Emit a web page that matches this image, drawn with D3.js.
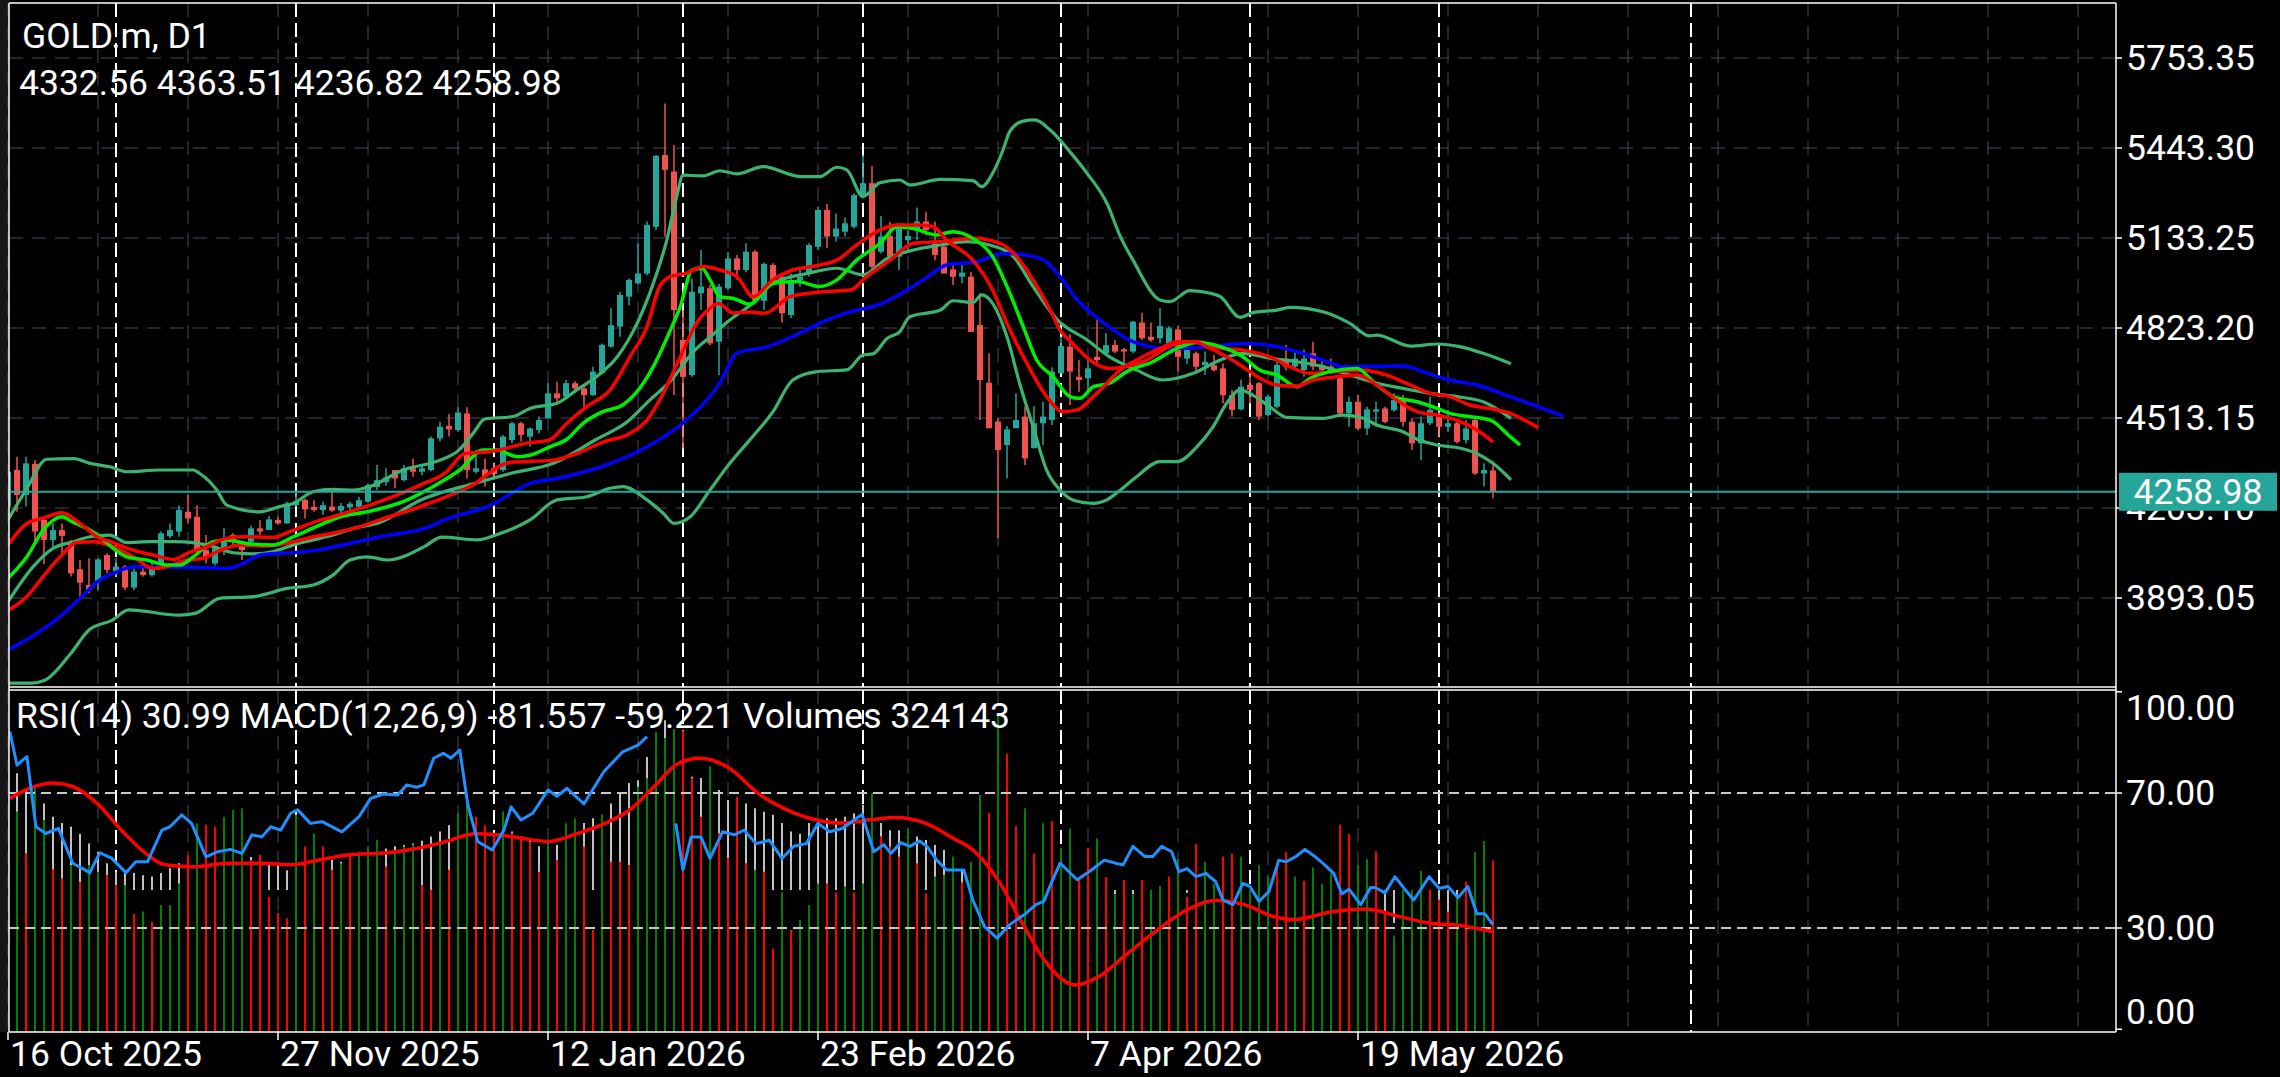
<!DOCTYPE html>
<html>
<head>
<meta charset="utf-8">
<script src="https://cdn.jsdelivr.net/npm/d3@7"></script>
<style>
  html, body { margin: 0; padding: 0; background: #000; }
  svg { display: block; }
  text { font-family: Roboto, 'Noto Sans', sans-serif; fill: #fff; }
</style>
</head>
<body>
<div id="chart"></div>
<script>
// ---- data (bar index 0 = 16 Oct 2025) ----
const opens = [4208,4334,4248,4355,4162,4093,4127,4084,3992,3938,
  3949,4041,3984,4001,3929,3984,3972,4012,4106,4122,
  4190,4173,4058,4012,4058,4110,4076,4087,4133,4127,
  4162,4150,4213,4231,4207,4196,4208,4194,4205,4207,
  4225,4276,4292,4334,4299,4340,4328,4334,4443,4486,
  4472,4529,4328,4336,4340,4334,4437,4495,4449,4472,
  4512,4598,4587,4633,4615,4592,4667,4759,4828,4931,
  4977,5011,5172,5419,5362,4782,4661,4943,4960,4776,
  4960,5063,5023,5086,4917,5040,5000,4868,4988,5011,
  5103,5230,5138,5155,5172,5281,5322,5086,5140,5069,
  5126,5161,5190,5115,5103,5025,5000,5000,4834,4635,
  4501,4420,4478,4518,4409,4495,4506,4667,4759,4655,
  4650,4724,4736,4765,4750,4742,4842,4793,4788,4770,
  4818,4718,4736,4695,4695,4684,4592,4543,4627,4633,
  4523,4552,4718,4690,4678,4736,4695,4690,4650,4529,
  4569,4477,4535,4546,4540,4575,4500,4426,4495,4518,
  4483,4495,4437,4506,4322,4332.56];
const highs = [4340,4380,4380,4368,4173,4150,4150,4093,4024,4030,
  4030,4047,4030,4007,3995,4018,4018,4122,4150,4213,
  4248,4213,4110,4070,4133,4116,4087,4142,4162,4175,
  4173,4225,4259,4236,4230,4225,4259,4220,4225,4242,
  4288,4351,4340,4334,4351,4374,4350,4449,4500,4527,
  4550,4550,4403,4374,4360,4455,4500,4500,4480,4518,
  4633,4638,4644,4640,4625,4690,4770,4891,4948,4994,
  5115,5190,5419,5597,5454,4885,4994,5092,4971,4975,
  5086,5075,5115,5092,5048,5046,5004,5011,5023,5115,
  5241,5250,5218,5204,5287,5419,5381,5209,5189,5184,
  5160,5238,5224,5190,5115,5040,5040,5017,4943,4736,
  4512,4486,4598,4552,4554,4569,4688,4793,4802,4713,
  4719,4857,4805,4782,4755,4848,4876,4842,4891,4830,
  4830,4760,4742,4742,4730,4701,4610,4646,4661,4638,
  4592,4722,4765,4747,4750,4776,4718,4718,4655,4587,
  4592,4552,4570,4552,4598,4592,4512,4518,4587,4535,
  4541,4500,4506,4512,4357,4363.51];
const lows = [4200,4190,4208,4087,4010,4070,4047,3967,3886,3909,
  3921,3978,3966,3921,3921,3966,3966,4007,4099,4104,
  4150,4047,4012,4005,4041,4070,4024,4081,4110,4127,
  4145,4150,4207,4167,4190,4179,4190,4185,4185,4202,
  4220,4265,4280,4271,4294,4311,4316,4330,4432,4449,
  4466,4305,4322,4276,4300,4328,4426,4432,4414,4460,
  4512,4569,4580,4600,4552,4590,4665,4755,4793,4902,
  4975,5005,5161,5138,4592,4408,4655,4885,4765,4661,
  4955,4989,5015,4914,4885,4977,4842,4857,4965,5000,
  5092,5098,5121,5138,5166,5270,5011,5080,5057,5023,
  5092,5126,5143,5057,5011,4971,4977,4810,4506,4478,
  4099,4305,4478,4351,4409,4420,4489,4667,4558,4604,
  4610,4701,4730,4736,4701,4736,4782,4776,4770,4765,
  4673,4700,4667,4661,4673,4564,4518,4540,4564,4506,
  4518,4546,4678,4685,4655,4678,4672,4665,4523,4483,
  4472,4455,4483,4495,4535,4483,4403,4368,4489,4449,
  4466,4425,4425,4317,4277,4236.82];
const closes = [4328,4248,4357,4122,4093,4127,4107,3978,3946,3921,
  4026,3990,4001,3929,3984,3972,3995,4116,4127,4196,
  4167,4058,4036,4064,4087,4087,4058,4133,4122,4164,
  4150,4219,4225,4198,4196,4213,4194,4210,4218,4230,
  4282,4299,4309,4305,4340,4328,4340,4443,4483,4474,
  4532,4334,4340,4311,4320,4449,4495,4455,4477,4506,
  4598,4581,4633,4615,4592,4673,4765,4833,4937,4989,
  5011,5178,5416,5368,4885,4655,4948,4966,4770,4966,
  5063,5023,5086,4920,5044,4983,4874,4983,5000,5109,
  5230,5138,5166,5184,5281,5322,5034,5138,5069,5172,
  5140,5190,5161,5075,5011,5000,5014,4810,4644,4478,
  4403,4474,4506,4374,4495,4518,4673,4761,4673,4644,
  4684,4713,4764,4742,4742,4845,4788,4782,4830,4822,
  4724,4747,4690,4707,4678,4592,4541,4621,4610,4518,
  4587,4696,4690,4718,4718,4690,4678,4673,4529,4569,
  4477,4543,4543,4500,4575,4500,4426,4495,4541,4483,
  4495,4431,4477,4322,4334,4258.98];

// indicator lines on the price chart, [bar, price]
const bbUpper = [[0,4162],[2.1,4271],[4.3,4371],[7.3,4373],[9.1,4357],[11.3,4345],[13.2,4328],[16.9,4334],[20.6,4334],[21.3,4322],[23.2,4265],[24.3,4213],[28,4190],[30.2,4208],[31.7,4219],[33.9,4259],[36.1,4267],[38.4,4265],[40.2,4277],[43.9,4334],[48,4368],[50,4400],[51.7,4461],[53,4510],[56.1,4518],[58,4546],[61,4564],[63.2,4610],[65.4,4656],[67.7,4724],[69.9,4839],[71.7,4977],[73.2,5126],[74.3,5276],[75,5350],[77.2,5347],[79.1,5365],[81,5354],[83.9,5379],[88,5345],[90.2,5345],[92.1,5377],[93.2,5368],[95,5276],[96.9,5324],[99.1,5333],[100.2,5316],[103.6,5335],[107.2,5331],[108.2,5310],[109.4,5356],[110.6,5440],[111.3,5500],[112.7,5535],[114.1,5540],[115.8,5505],[118,5430],[119.9,5356],[122.1,5253],[123.6,5138],[125,5057],[128,4920],[129.1,4914],[131.3,4952],[133.6,4943],[134.7,4931],[136.9,4860],[138.3,4876],[141,4885],[142.4,4894],[146.1,4879],[149.1,4839],[151.3,4796],[152.1,4799],[155.8,4761],[158.8,4768],[161.3,4759],[163.9,4736],[167,4700]];
const bbMiddle = [[0,3880],[2.8,4001],[5,4064],[7.3,4087],[9.1,4104],[11.3,4110],[13.2,4084],[15.8,4087],[18.4,4087],[20.6,4084],[22.8,4070],[25,4049],[27.3,4045],[29.5,4053],[31.7,4076],[33.9,4093],[36.1,4110],[38.4,4133],[41.3,4153],[45.8,4230],[52.1,4290],[55.8,4322],[60.6,4357],[65.4,4440],[68.8,4500],[71.3,4575],[73.6,4640],[76.1,4740],[78.3,4800],[80.2,4851],[82.4,4900],[85,4977],[88.8,5011],[92.1,5029],[95,5006],[97.7,5063],[100.6,5092],[103.6,5109],[106.6,5121],[109.1,5109],[111.7,5069],[113.9,4966],[116.6,4851],[119.9,4782],[122.4,4724],[125.4,4678],[128.3,4644],[131.7,4667],[134.7,4713],[137.2,4736],[140.2,4719],[143.2,4707],[146.1,4690],[149.1,4661],[152.1,4633],[155,4615],[158,4598],[161,4587],[163.9,4569],[167,4512]];
const bbLower = [[0,3600],[2.6,3600],[4.1,3610],[7,3703],[9,3783],[11.6,3817],[13.4,3852],[19,3834],[20.9,3841],[23.5,3892],[27.3,3898],[31,3926],[33.9,3938],[36.1,3972],[38,4024],[39.9,4035],[42.2,4024],[46.2,4069],[48.2,4103],[52.2,4093],[54.2,4110],[58,4162],[61,4231],[64.3,4242],[66.9,4271],[68.3,4277],[71,4231],[72.8,4185],[74,4150],[75.8,4173],[78,4265],[80.2,4357],[82.4,4437],[85,4535],[87.2,4644],[89.9,4673],[93.2,4679],[95,4730],[96.1,4734],[97.7,4788],[99.1,4811],[100.2,4862],[103.6,4885],[105,4917],[107.2,4911],[108.2,4937],[109.4,4908],[111,4793],[112.4,4633],[113.9,4483],[115.4,4334],[116.9,4265],[118.3,4231],[120.6,4219],[122.1,4231],[123.6,4265],[125.4,4311],[128,4363],[129.9,4363],[132.1,4414],[133.9,4483],[135.4,4564],[136.9,4610],[138.3,4592],[140.2,4552],[142.1,4515],[146.1,4512],[148.3,4523],[150.6,4512],[152.1,4489],[155,4466],[156.8,4437],[158.8,4420],[161.4,4409],[163.2,4391],[165,4357],[167,4300]];
const blueLine = [[0,3714],[6,3835],[7.8,3886],[10.2,3955],[11.7,3978],[14,4001],[20,3999],[24.3,3995],[25.8,4007],[28,4041],[30,4047],[31.7,4049],[34.3,4058],[38,4081],[41.3,4104],[46.8,4138],[48.5,4162],[53.7,4213],[58,4288],[61,4305],[66,4346],[71,4414],[75,4496],[79.1,4634],[81,4737],[84.3,4758],[88,4806],[90.6,4845],[93.2,4875],[97.2,4909],[101.7,4989],[104.3,5040],[107.6,5052],[110.2,5078],[111,5080],[114.7,5063],[116.9,5000],[118.8,4920],[121.3,4851],[123.6,4800],[124.7,4780],[128.8,4753],[133.6,4759],[137.2,4770],[141,4759],[143.2,4742],[146.6,4707],[148.3,4690],[155,4692],[157.7,4667],[160.2,4644],[163.2,4627],[166.9,4587],[172.8,4520]];
const limeLine = [[0,3961],[2.1,4035],[3.9,4127],[6,4173],[7.1,4156],[9.1,4127],[10.2,4104],[11.7,4064],[13.2,4035],[15.4,4024],[17.6,4007],[19.1,4007],[20.6,4035],[22.8,4087],[24.3,4093],[26.5,4081],[29.5,4076],[31.7,4104],[34.7,4145],[36.9,4173],[39.9,4190],[43.9,4225],[47.7,4285],[50.2,4334],[52.8,4403],[54.3,4403],[56.6,4380],[58,4385],[60.2,4414],[62.1,4440],[63.9,4495],[66.1,4535],[68.3,4558],[69.9,4604],[71.7,4690],[73.6,4816],[74.7,4897],[76,5023],[77.1,5029],[78,4989],[79.1,4931],[80.6,4925],[82.4,4905],[85,4977],[87.7,4983],[90.2,4966],[92.1,4989],[94.3,5057],[96.9,5115],[98.8,5172],[100.6,5166],[103.2,5144],[105,5155],[107.2,5132],[109.4,5069],[111,4966],[112.8,4828],[114.3,4713],[116.1,4656],[118,4587],[119.1,4581],[120.6,4621],[122.4,4633],[124.3,4673],[127.2,4707],[129.9,4753],[132.1,4773],[134.7,4759],[137.2,4724],[139.1,4678],[141,4661],[143.2,4621],[144.7,4650],[146.9,4673],[149.9,4684],[151.7,4638],[153.9,4587],[156.6,4569],[158.8,4546],[160.2,4529],[162.4,4518],[164.7,4506],[166.9,4449],[168,4420]];
const redFast = [[0,4076],[2.1,4150],[3.9,4168],[6,4187],[8,4150],[9.9,4104],[11.7,4084],[13.9,4058],[16.1,4041],[18.4,4026],[19.9,4047],[22.1,4070],[24.3,4099],[26.5,4104],[29.5,4102],[31.3,4122],[33.9,4153],[36.1,4173],[39.1,4202],[41.3,4225],[45.8,4282],[48.7,4327],[50.7,4390],[53.7,4398],[57.7,4427],[60.1,4437],[62.1,4495],[64.3,4552],[66.9,4610],[69.1,4724],[71,4828],[72.4,4966],[73.6,5000],[75.4,5012],[77.2,5035],[79.1,5023],[81,5000],[82.8,4931],[85,4990],[87.2,5023],[90.2,5040],[92.1,5057],[94.3,5109],[96.9,5161],[98.8,5178],[101.3,5178],[102.8,5172],[104.3,5126],[107.2,5057],[109.4,4954],[111,4839],[113.2,4702],[115.4,4587],[117.2,4535],[118.8,4541],[120.6,4587],[122.1,4633],[123.6,4679],[125.4,4713],[128,4753],[129.9,4776],[131.7,4776],[133.6,4753],[135.4,4724],[137.2,4690],[139.1,4650],[141,4627],[143.2,4623],[145,4644],[147.7,4655],[149.9,4661],[152.1,4627],[154.3,4575],[156.6,4535],[158.8,4523],[161,4506],[163.2,4472],[165,4431]];
const redSlow = [[0,3850],[1.9,3892],[3.9,3967],[5.8,4035],[7.6,4084],[9.5,4087],[11.7,4070],[13.9,4035],[16.1,3995],[17.6,4001],[19.9,4024],[21.7,4030],[23.6,4058],[25.8,4076],[28.7,4072],[31.7,4087],[33.9,4104],[36.1,4116],[39.1,4139],[41.3,4162],[45.8,4208],[51.3,4277],[55.8,4360],[60.6,4368],[63.2,4391],[66.1,4430],[69.1,4460],[71,4506],[72.8,4598],[74.7,4724],[76.6,4845],[78,4891],[78.9,4908],[80.6,4875],[82.4,4878],[84.1,4874],[86.9,4931],[90.6,4948],[93.6,4954],[95.4,5000],[98,5057],[100.6,5115],[103.6,5121],[107.2,5132],[110.2,5115],[112.1,5069],[113.9,4989],[115.8,4885],[116.9,4816],[118.3,4770],[120.2,4713],[122.4,4684],[126.1,4707],[129.9,4770],[132.1,4776],[134.3,4756],[137.2,4747],[140.2,4724],[142.4,4690],[144.7,4667],[147.7,4673],[150.6,4678],[153.2,4661],[155.8,4627],[158,4598],[160.2,4587],[162.4,4558],[164.7,4546],[166.9,4529],[170,4480]];

// sub window: volumes (thousands), volume colour (g/r), MACD main, MACD signal, RSI
const volumesK = [297,417,338,464,401,308,291,316,284,316,
  303,297,278,278,223,228,209,240,240,281,
  335,395,392,388,407,420,423,325,335,256,
  225,215,411,351,376,351,307,319,338,341,
  351,363,313,338,351,354,278,269,354,307,
  414,433,407,392,376,417,376,370,360,303,
  357,325,395,404,351,193,411,322,322,316,
  464,480,568,556,573,570,480,407,502,376,
  329,445,319,307,303,158,265,193,212,240,
  281,281,264,275,264,281,452,370,351,332,
  385,319,262,294,297,332,283,322,448,414,
  603,526,390,423,338,395,399,348,385,288,
  348,366,293,261,288,261,288,269,276,294,
  327,256,356,322,280,332,337,332,269,316,
  294,322,340,294,286,311,280,301,392,375,
  316,327,342,228,182,269,269,305,269,250,
  228,256,284,341,361,324.143];
const volumeDir = 'ggrggrrgrggrrgrgrgggrgrrgggrrrrrgrgrrgrgggrgggrrgrggrrrgrrrrgrggrrgrrrgggggrrrgrrrrgrrgrggg rrgrggrrrgrrgggrggrgrrgrgrggrrgrgrgrggrgrrggrrggggrrgrgggrrggrrggggrrrgrggr'.replace(/ /g, '');
const macdMain = [158,166,142,128,123,104,95,90,80,66,
  54,38,26,24,24,21,19,24,31,38,
  47,52,62,62,59,57,62,47,40,38,
  36,28,45,52,47,45,43,40,52,52,
  57,62,59,62,64,66,70,76,83,92,
  97,109,99,85,80,80,83,76,71,62,
  69,64,76,85,95,102,107,123,137,152,
  156,189,223,241,215,173,161,159,156,142,
  128,125,123,116,111,107,95,83,80,95,
  97,102,102,104,109,121,104,95,85,85,
  76,76,71,64,57,43,28,10,-15,-50,
  -85,-120,-148,-165,-172,-170,-162,-150,-136,-122,
  -108,-94,-78,-62,-48,-36,-26,-18,-12,-8,
  -5,-4,-6,-9,-14,-22,-32,-42,-50,-55,
  -56,-50,-42,-34,-28,-24,-22,-24,-30,-36,
  -40,-42,-44,-46,-47,-50,-54,-55,-54,-55,
  -56,-58,-62,-70,-76,-81.557];
const macdSignal = [[0.2,130],[2.3,144],[5,152],[7.2,147],[9.9,123],[12.6,85],[15.3,52],[17.4,36],[20.7,33],[24.4,38],[28.2,38],[31.4,36],[34.7,43],[37.9,50],[42.2,53],[45.4,59],[48.7,69],[51.9,80],[54.6,78],[57.3,73],[60,69],[63.2,80],[66.4,95],[69.1,114],[71.8,147],[74.5,180],[76.9,187],[79.9,175],[83.6,135],[86.2,116],[90,99],[92.6,95],[95.9,100],[98.7,103],[101.9,95],[105.1,73],[107.2,57],[110,14],[112.7,-47],[115.4,-104],[118.6,-135],[121.2,-123],[124.4,-90],[127.7,-57],[131,-28],[134.2,-15],[137.4,-21],[140.7,-38],[142.8,-42],[147.1,-31],[150.9,-27],[154.7,-38],[157.9,-47],[161.7,-51],[165,-59.221]];
const rsiValues = [[0.2,88.2],[1,78.3],[2.1,80.8],[3.1,60],[4.2,58],[5.6,59.5],[7.2,49.2],[9.1,46.4],[10.2,52.3],[11.5,50.7],[13.1,46.4],[14.2,49.6],[15.5,49.6],[17.1,59],[18,60],[19.3,63.5],[20.4,61],[22,51.1],[23.3,52.6],[24.7,53.3],[26,52.1],[27.1,57.6],[28.2,57],[29.2,60],[30.3,59],[31.4,64],[32.2,65],[33.6,61],[34.9,61.5],[37.1,58.5],[39,63],[40.3,68.4],[41.7,69.7],[43.3,69.4],[44.3,72.4],[45.4,71.7],[46.2,72.4],[47.3,80.3],[48.4,81.8],[49.2,80.3],[50.2,82.7],[51.1,66.4],[52.2,55.6],[53.8,53.1],[55.1,59],[55.9,65.9],[57,62],[58.3,64],[60,70.9],[61,69],[62.1,71.4],[64,66.8],[66.2,76.3],[68.3,82.2],[70,84.2],[71,86.7],[72,null],[74.2,61],[75,47.2],[75.9,57],[77,57],[78,50.6],[79.4,58.5],[80.7,57.6],[81.8,59],[83.1,55],[84.6,56],[86,50.6],[87.3,54.2],[88.7,55],[90,61],[91.3,58.5],[92.7,59.5],[94,62],[94.9,63.6],[96.2,52.6],[97.3,54.7],[98.1,52.1],[99.2,55.3],[100.2,54.2],[101.3,55.8],[102.1,54.2],[103.2,50.1],[104.3,47.2],[106.2,47.2],[107.2,38.3],[108.5,30.4],[109.9,27],[111.3,31],[112.9,33.9],[114.2,36.9],[115.1,37.9],[115.9,43.2],[116.9,49.2],[118.8,44.3],[120.2,46.8],[121.8,50.1],[123.1,49.2],[123.9,48.7],[125,54.2],[126.3,51.2],[127.2,51.2],[128.2,54.2],[129.3,52.6],[130.1,46.7],[131,47.6],[132,45.2],[133.1,46.2],[134.2,43.7],[135,38.3],[136.1,36.9],[137.2,43.2],[138,42.3],[139,37.9],[140.1,40.8],[141.2,50.1],[142,49.6],[143.1,51.2],[144.1,53.3],[145.2,51.2],[146.3,48.7],[147.3,46.2],[148.2,40.1],[149,41.5],[150.3,36.9],[151.4,42],[151.9,42],[153,40.4],[154.1,45.2],[155.2,41.5],[156.2,38.3],[157.9,45.2],[159,41.8],[160,42.3],[161.1,39],[162.2,42.3],[163.2,34.2],[164.1,34.2],[165,30.99]];

// axes
const priceTicks = [5753.35, 5443.30, 5133.25, 4823.20, 4513.15, 4203.10, 3893.05];
const rsiTicks = [100, 70, 30, 0];
const rsiLevels = [70, 30];
const dateLabels = ['16 Oct 2025', '27 Nov 2025', '12 Jan 2026', '23 Feb 2026', '7 Apr 2026', '19 May 2026'];
const dateLabelBars = [0, 30, 60, 90, 120, 150];
const monthSeparatorBars = [12, 32, 54, 75, 95, 117, 138, 159, 187];
const lastPrice = 4258.98;
const headerLines = ['GOLD.m, D1', '4332.56 4363.51 4236.82 4258.98'];
const subHeader = 'RSI(14) 30.99 MACD(12,26,9) -81.557 -59.221 Volumes 324143';

// ---- layout ----
const width = 2280;
const height = 1077;
const plotL = 9;
const plotR = 2116;
const mainTop = 3;
const mainBot = 687;
const subTop = 690;
const subBot = 1032;
const fontSize = 35.5;

const bull = '#26a69a';
const bear = '#ef5350';
const gridColor = '#474757';

const svg = d3.select('#chart').append('svg')
  .attr('width', width)
  .attr('height', height)
  .style('background', '#000');

const x = d3.scaleLinear().domain([0, 1]).range([8, 17]);
const yP = d3.scaleLinear().domain([3893.05, 5753.35]).range([598, 58]);
const yRsi = d3.scaleLinear().domain([0, 100]).range([1029.25, 691.75]);
const yVol = d3.scaleLinear().domain([0, 643]).range([subBot, 692]);
const yMacd = d3.scaleLinear().domain([0, 100]).range([890, 819.6]);

const defs = svg.append('defs');
defs.append('clipPath').attr('id', 'clipMain')
  .append('rect').attr('x', plotL).attr('y', mainTop).attr('width', plotR - plotL).attr('height', mainBot - mainTop);
defs.append('clipPath').attr('id', 'clipSub')
  .append('rect').attr('x', plotL).attr('y', subTop).attr('width', plotR - plotL).attr('height', subBot - subTop);

// left dark strip
svg.append('rect').attr('x', 0).attr('y', 0).attr('width', plotL).attr('height', subBot).attr('fill', '#161616');

// vertical grid every 10 bars, both panes
const gridBars = d3.range(0, 235, 10);
[[mainTop, mainBot], [subTop, subBot]].forEach(([t, b]) => {
  svg.append('g').selectAll('line').data(gridBars).enter().append('line')
    .attr('x1', (d) => x(d)).attr('x2', (d) => x(d))
    .attr('y1', t).attr('y2', b)
    .attr('stroke', gridColor).attr('stroke-width', 1)
    .attr('stroke-dasharray', '14,9');
});

// horizontal price grid
svg.append('g').selectAll('line').data(priceTicks).enter().append('line')
  .attr('x1', plotL).attr('x2', plotR)
  .attr('y1', (d) => yP(d)).attr('y2', (d) => yP(d))
  .attr('stroke', gridColor).attr('stroke-width', 1)
  .attr('stroke-dasharray', '14,9');

// period separators (month starts)
[[mainTop, mainBot], [subTop, subBot]].forEach(([t, b]) => {
  svg.append('g').selectAll('line').data(monthSeparatorBars).enter().append('line')
    .attr('x1', (d) => x(d)).attr('x2', (d) => x(d))
    .attr('y1', t).attr('y2', b)
    .attr('stroke', '#fff').attr('stroke-width', 2)
    .attr('stroke-dasharray', '14,6');
});

// ---- main pane ----
const main = svg.append('g').attr('clip-path', 'url(#clipMain)');
const bars = d3.range(opens.length);

main.append('g').selectAll('line').data(bars).enter().append('line')
  .attr('x1', (i) => x(i)).attr('x2', (i) => x(i))
  .attr('y1', (i) => yP(highs[i])).attr('y2', (i) => yP(lows[i]))
  .attr('stroke', (i) => (closes[i] >= opens[i] ? bull : bear))
  .attr('stroke-width', 1.5);
main.append('g').selectAll('rect').data(bars).enter().append('rect')
  .attr('x', (i) => x(i) - 3)
  .attr('width', 6)
  .attr('y', (i) => yP(Math.max(opens[i], closes[i])))
  .attr('height', (i) => Math.max(1.5, Math.abs(yP(opens[i]) - yP(closes[i]))))
  .attr('fill', (i) => (closes[i] >= opens[i] ? bull : bear));

const priceLine = d3.line().x((d) => x(d[0])).y((d) => yP(d[1])).curve(d3.curveMonotoneX);
const mainLines = [
  { data: bbUpper, color: '#3cb371', w: 3.2 },
  { data: bbMiddle, color: '#3cb371', w: 3.2 },
  { data: bbLower, color: '#3cb371', w: 3.2 },
  { data: blueLine, color: '#0000ff', w: 3.5 },
  { data: redSlow, color: '#ff0000', w: 3.5 },
  { data: limeLine, color: '#00ee00', w: 3.5 },
  { data: redFast, color: '#ff0000', w: 3.5 },
];
mainLines.forEach((l) => {
  main.append('path').datum(l.data)
    .attr('d', priceLine)
    .attr('fill', 'none')
    .attr('stroke', l.color)
    .attr('stroke-width', l.w)
    .attr('stroke-linejoin', 'round');
});

// bid line
svg.append('line')
  .attr('x1', plotL).attr('x2', plotR)
  .attr('y1', yP(lastPrice)).attr('y2', yP(lastPrice))
  .attr('stroke', bull).attr('stroke-width', 2);

// ---- sub pane ----
const sub = svg.append('g').attr('clip-path', 'url(#clipSub)');
sub.append('g').selectAll('line').data(bars).enter().append('line')
  .attr('x1', (i) => x(i)).attr('x2', (i) => x(i))
  .attr('y1', yMacd(0)).attr('y2', (i) => yMacd(macdMain[i]))
  .attr('stroke', '#c0c0c0').attr('stroke-width', 2);
sub.append('g').selectAll('line').data(bars).enter().append('line')
  .attr('x1', (i) => x(i)).attr('x2', (i) => x(i))
  .attr('y1', subBot).attr('y2', (i) => yVol(volumesK[i]))
  .attr('stroke', (i) => (volumeDir[i] === 'g' ? '#008000' : '#ff0000'))
  .attr('stroke-width', 2);

sub.append('g').selectAll('line').data(rsiLevels).enter().append('line')
  .attr('x1', plotL).attr('x2', plotR)
  .attr('y1', (d) => yRsi(d)).attr('y2', (d) => yRsi(d))
  .attr('stroke', '#c8c8c8').attr('stroke-width', 2)
  .attr('stroke-dasharray', '10,6');

sub.append('path').datum(macdSignal)
  .attr('d', d3.line().x((d) => x(d[0])).y((d) => yMacd(d[1])).curve(d3.curveMonotoneX))
  .attr('fill', 'none').attr('stroke', '#ff0000').attr('stroke-width', 3.5);

sub.append('path').datum(rsiValues)
  .attr('d', d3.line().defined((d) => d[1] !== null).x((d) => x(d[0])).y((d) => yRsi(d[1])))
  .attr('fill', 'none').attr('stroke', '#1e90ff').attr('stroke-width', 3)
  .attr('stroke-linejoin', 'round');

// ---- frame ----
const frame = svg.append('g').attr('stroke', '#fff').attr('stroke-width', 1.5);
frame.append('line').attr('x1', plotL).attr('x2', plotR).attr('y1', mainTop).attr('y2', mainTop);
frame.append('line').attr('x1', plotL).attr('x2', plotR).attr('y1', mainBot).attr('y2', mainBot);
frame.append('line').attr('x1', plotL).attr('x2', plotR).attr('y1', subTop).attr('y2', subTop);
frame.append('line').attr('x1', plotL).attr('x2', plotR).attr('y1', subBot).attr('y2', subBot);
frame.append('line').attr('x1', plotL).attr('x2', plotL).attr('y1', mainTop).attr('y2', subBot);
frame.append('line').attr('x1', plotR).attr('x2', plotR).attr('y1', mainTop).attr('y2', subBot);

// right price axis
svg.append('g').selectAll('line').data(priceTicks).enter().append('line')
  .attr('x1', plotR).attr('x2', plotR + 6)
  .attr('y1', (d) => yP(d)).attr('y2', (d) => yP(d))
  .attr('stroke', '#fff').attr('stroke-width', 1.5);
svg.append('g').selectAll('text').data(priceTicks).enter().append('text')
  .attr('x', plotR + 10)
  .attr('y', (d) => yP(d) + 12)
  .attr('font-size', fontSize)
  .text((d) => d.toFixed(2));

// sub axis
const rsiLabelY = (v) => Math.min(Math.max(yRsi(v), subTop + 18), subBot - 20);
svg.append('g').selectAll('line').data(rsiTicks).enter().append('line')
  .attr('x1', plotR).attr('x2', plotR + 6)
  .attr('y1', (d) => yRsi(d)).attr('y2', (d) => yRsi(d))
  .attr('stroke', '#fff').attr('stroke-width', 1.5);
svg.append('g').selectAll('text').data(rsiTicks).enter().append('text')
  .attr('x', plotR + 10)
  .attr('y', (d) => rsiLabelY(d) + 12)
  .attr('font-size', fontSize)
  .text((d) => d.toFixed(2));

// last price tag (covers part of the 4203.10 label, as in the terminal)
const tagY = yP(lastPrice);
svg.append('rect')
  .attr('x', plotR + 3).attr('y', tagY - 19)
  .attr('width', 158).attr('height', 38)
  .attr('fill', bull);
svg.append('text')
  .attr('x', plotR + 3 + 79).attr('y', tagY + 12)
  .attr('text-anchor', 'middle')
  .attr('font-size', fontSize)
  .text(lastPrice.toFixed(2));

// date axis
svg.append('g').selectAll('line').data(dateLabelBars).enter().append('line')
  .attr('x1', (d) => x(d)).attr('x2', (d) => x(d))
  .attr('y1', subBot).attr('y2', subBot + 8)
  .attr('stroke', '#fff').attr('stroke-width', 1.5);
svg.append('g').selectAll('text').data(dateLabelBars).enter().append('text')
  .attr('x', (d) => x(d) + 2)
  .attr('y', 1066)
  .attr('font-size', fontSize)
  .text((d, i) => dateLabels[i]);

// headers
svg.append('g').selectAll('text').data(headerLines).enter().append('text')
  .attr('x', (d, i) => (i === 0 ? 22 : 19))
  .attr('y', (d, i) => (i === 0 ? 48 : 95))
  .attr('font-size', fontSize)
  .text((d) => d);
svg.append('text')
  .attr('x', 16).attr('y', 728)
  .attr('font-size', fontSize)
  .text(subHeader);
</script>
</body>
</html>
